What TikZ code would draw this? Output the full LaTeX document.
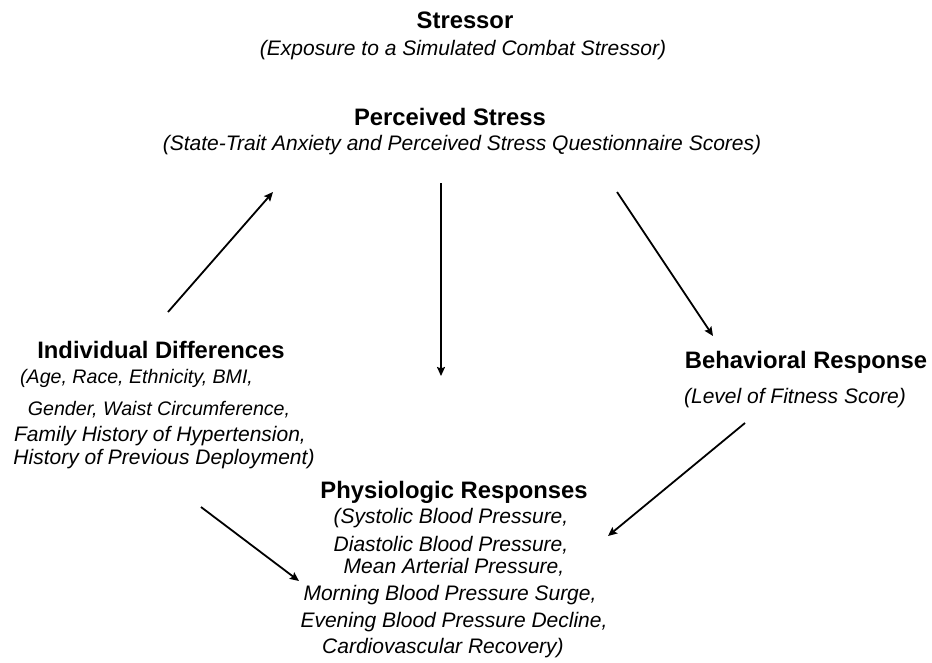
\documentclass[tikz,border=0pt]{standalone}
\usepackage{fontspec}
\setmainfont{Liberation Sans}
\usetikzlibrary{arrows.meta}

\begin{document}
\begin{tikzpicture}[x=1pt,y=-1pt,inner sep=0pt,
    head/.style={font=\bfseries\fontsize{23.8}{28}\selectfont},
    sub/.style={font=\itshape\fontsize{21}{25}\selectfont},
    smallsub/.style={font=\itshape\fontsize{19.6}{24}\selectfont},
    link/.style={-{Stealth[length=9pt,width=8pt,inset=1.5pt]},line width=1.8pt}]
  \useasboundingbox (0,0) rectangle (932,662);

  \node[head] (stressor) at (465,20) {Stressor};
  \node[sub] (stressorsub) at (463,50) {(Exposure to a Simulated Combat Stressor)};

  \node[head] (perceived) at (450,117) {Perceived Stress};
  \node[sub] (perceivedsub) at (462,145) {(State-Trait Anxiety and Perceived Stress Questionnaire Scores)};

  \node[head] (indiv) at (161,350) {Individual Differences};
  \node[smallsub,anchor=west] (indiv1) at (20,378) {(Age, Race, Ethnicity, BMI,};
  \node[smallsub] (indiv2) at (159,410) {Gender, Waist Circumference,};
  \node[sub] (indiv3) at (160,436) {Family History of Hypertension,};
  \node[sub] (indiv4) at (164,459) {History of Previous Deployment)};

  \node[head] (behav) at (806,362) {Behavioral Response};
  \node[sub] (behavsub) at (795,398) {(Level of Fitness Score)};

  \node[head] (physio) at (454,492) {Physiologic Responses};
  \node[sub] (physio1) at (451,518) {(Systolic Blood Pressure,};
  \node[sub] (physio2) at (451,545) {Diastolic Blood Pressure,};
  \node[sub] (physio3) at (454,567) {Mean Arterial Pressure,};
  \node[sub] (physio4) at (450,595) {Morning Blood Pressure Surge,};
  \node[sub] (physio5) at (454,622) {Evening Blood Pressure Decline,};
  \node[sub] (physio6) at (443,648) {Cardiovascular Recovery)};

  % arrow ends
  \coordinate (a1) at (168,312);
  \coordinate (a2) at (273,192);
  \coordinate (b1) at (441,183);
  \coordinate (b2) at (441,376);
  \coordinate (c1) at (617,192);
  \coordinate (c2) at (713,336);
  \coordinate (d1) at (201,507);
  \coordinate (d2) at (299,581);
  \coordinate (e1) at (745,423);
  \coordinate (e2) at (608,536);

  \draw[link] (a1) -- (a2);
  \draw[link] (b1) -- (b2);
  \draw[link] (c1) -- (c2);
  \draw[link] (d1) -- (d2);
  \draw[link] (e1) -- (e2);
\end{tikzpicture}
\end{document}
